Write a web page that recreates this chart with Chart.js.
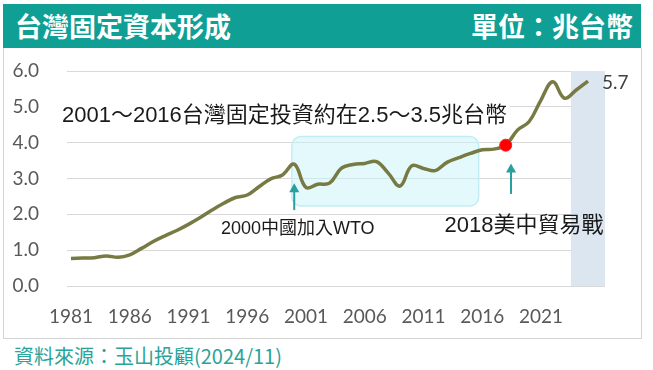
<!DOCTYPE html>
<html>
<head>
<meta charset="utf-8">
<script src="https://cdn.jsdelivr.net/npm/chart.js@4/dist/chart.umd.min.js"></script>
<style>
  html, body { margin: 0; padding: 0; background: #fff; }
  body { width: 653px; height: 370px; position: relative; overflow: hidden; font-family: "Noto Sans CJK TC", sans-serif; }
  .header { position: absolute; left: 3px; top: 4px; width: 638px; height: 44px; background: #0f9f94; color: #fff; font-weight: bold; font-size: 27px; }
  .header .title { position: absolute; left: 12px; top: 0; line-height: 44px; }
  .header .unit { position: absolute; right: 8px; top: 0; line-height: 44px; }
  .panel { position: absolute; left: 3px; top: 48px; width: 637px; height: 290px; border: 1px solid #d4d4d4; border-top: none; }
  .source { position: absolute; left: 14px; top: 344px; font-size: 20px; line-height: 24px; color: #2aa39a; }
  #chart { position: absolute; left: 0; top: 0; }
</style>
</head>
<body>
<div class="header"><span class="title">台灣固定資本形成</span><span class="unit">單位：兆台幣</span></div>
<div class="panel"></div>
<div class="source">資料來源：玉山投顧(2024/11)</div>
<canvas id="chart" width="653" height="370"></canvas>
<script>
const ctx = document.querySelector('#chart');

// yearly gross fixed capital formation, NT$ trillion
const years = [
  1981, 1982, 1983, 1984, 1985, 1986, 1987, 1988, 1989, 1990,
  1991, 1992, 1993, 1994, 1995, 1996, 1997, 1998, 1999, 2000,
  2001, 2002, 2003, 2004, 2005, 2006, 2007, 2008, 2009, 2010,
  2011, 2012, 2013, 2014, 2015, 2016, 2017, 2018, 2019, 2020,
  2021, 2022, 2023, 2024, 2025,
];
const values = [
  0.77, 0.78, 0.79, 0.84, 0.80, 0.87, 1.05, 1.24, 1.40, 1.55,
  1.72, 1.91, 2.12, 2.31, 2.47, 2.54, 2.77, 2.99, 3.10, 3.40,
  2.75, 2.84, 2.87, 3.28, 3.39, 3.42, 3.47, 3.15, 2.79, 3.35,
  3.28, 3.22, 3.45, 3.58, 3.70, 3.80, 3.82, 3.93, 4.35, 4.59,
  5.19, 5.70, 5.24, 5.47, 5.72,
];
const xTickYears = [1981, 1986, 1991, 1996, 2001, 2006, 2011, 2016, 2021];
const yTicks = [0, 1, 2, 3, 4, 5, 6];

const highlightYear = 2018;
const forecastBand = [2023.55, 2026.45];
const rangeBox = { years: [1999.8, 2015.7], values: [2.23, 4.17] };
const rangeNote = '2001～2016台灣固定投資約在2.5～3.5兆台幣';
const wtoNote = '2000中國加入WTO';
const tradeWarNote = '2018美中貿易戰';

const teal = '#2a9fa0';
const textFont = '"Liberation Sans", "Noto Sans CJK TC", sans-serif';

function drawArrow(c, x, yTip, yEnd) {
  c.strokeStyle = teal;
  c.fillStyle = teal;
  c.lineWidth = 2;
  c.beginPath();
  c.moveTo(x, yEnd);
  c.lineTo(x, yTip + 6);
  c.stroke();
  c.beginPath();
  c.moveTo(x, yTip);
  c.lineTo(x - 5, yTip + 9);
  c.lineTo(x + 5, yTip + 9);
  c.closePath();
  c.fill();
}

const annotations = {
  id: 'annotations',
  beforeDatasetsDraw(chart) {
    const { ctx: c, chartArea: a, scales: { x, y } } = chart;
    c.save();
    // forecast band
    const b0 = x.getPixelForValue(forecastBand[0]);
    const b1 = x.getPixelForValue(forecastBand[1]);
    c.fillStyle = '#dce6f1';
    c.fillRect(b0, a.top, b1 - b0, a.bottom - a.top);
    // 2001-2016 range box
    const rx0 = x.getPixelForValue(rangeBox.years[0]);
    const rx1 = x.getPixelForValue(rangeBox.years[1]);
    const ry0 = y.getPixelForValue(rangeBox.values[1]);
    const ry1 = y.getPixelForValue(rangeBox.values[0]);
    c.beginPath();
    c.roundRect(rx0, ry0, rx1 - rx0, ry1 - ry0, 9);
    c.fillStyle = 'rgba(200, 243, 248, 0.5)';
    c.fill();
    c.strokeStyle = '#c2eef3';
    c.lineWidth = 1.5;
    c.stroke();
    c.restore();
  },
  afterDraw(chart) {
    const { ctx: c, scales: { x, y } } = chart;
    c.save();
    // arrows
    drawArrow(c, x.getPixelForValue(2000), y.getPixelForValue(2.87), y.getPixelForValue(2.12));
    drawArrow(c, x.getPixelForValue(2018.45), y.getPixelForValue(3.42), y.getPixelForValue(2.57));

    c.textBaseline = 'middle';
    c.textAlign = 'center';
    // range note with white backing
    c.font = '22px ' + textFont;
    const nx = x.getPixelForValue(1999.17);
    const ny = y.getPixelForValue(4.74);
    const w = c.measureText(rangeNote).width;
    c.fillStyle = '#fff';
    c.fillRect(nx - w / 2 - 3, ny - 13, w + 6, 26);
    c.fillStyle = '#1a1a1a';
    c.fillText(rangeNote, nx, ny);

    c.font = '18px ' + textFont;
    c.fillText(wtoNote, x.getPixelForValue(2000.3), y.getPixelForValue(1.6));
    c.font = '22px ' + textFont;
    c.fillText(tradeWarNote, x.getPixelForValue(2019.55), y.getPixelForValue(1.67));

    // last value label
    const last = values.length - 1;
    c.textAlign = 'left';
    c.font = '19px Lato';
    c.fillStyle = '#404040';
    c.fillText(values[last].toFixed(1), x.getPixelForValue(years[last]) + 14, y.getPixelForValue(values[last]) + 2);
    c.restore();
  },
};

new Chart(ctx, {
  type: 'line',
  data: {
    datasets: [
      {
        data: years.map((yr, i) => ({ x: yr, y: values[i] })),
        borderColor: '#777a43',
        borderWidth: 3.5,
        tension: 0.4,
        fill: false,
        pointRadius: (c) => (years[c.dataIndex] === highlightYear ? 6 : 0),
        pointBackgroundColor: '#ff0000',
        pointBorderColor: '#ff2020',
        pointBorderWidth: 1,
      },
    ],
  },
  options: {
    responsive: false,
    animation: false,
    layout: { padding: { left: 0, right: 48, top: 71, bottom: 34 } },
    plugins: { legend: { display: false }, tooltip: { enabled: false } },
    scales: {
      x: {
        type: 'linear',
        min: 1980.66,
        max: 2026.45,
        afterBuildTicks: (s) => { s.ticks = xTickYears.map((v) => ({ value: v })); },
        afterFit: (s) => { s.height = 50; },
        grid: { display: false, drawTicks: false },
        border: { display: false },
        ticks: {
          autoSkip: false,
          maxRotation: 0,
          padding: 19,
          color: '#595959',
          font: { family: 'Lato', size: 19 },
          callback: (v) => String(v),
        },
      },
      y: {
        min: 0,
        max: 6,
        afterBuildTicks: (s) => { s.ticks = yTicks.map((v) => ({ value: v })); },
        afterFit: (s) => { s.width = 67; },
        grid: { color: '#d9d9d9', lineWidth: 1, drawTicks: false },
        border: { display: false },
        ticks: {
          padding: 28,
          color: '#595959',
          font: { family: 'Lato', size: 19 },
          callback: (v) => v.toFixed(1),
        },
      },
    },
  },
  plugins: [annotations],
});
</script>
</body>
</html>
